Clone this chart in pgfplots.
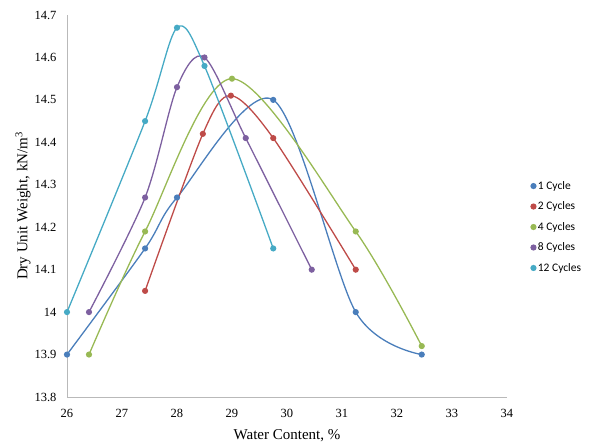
\documentclass[border=0pt]{standalone}
\usepackage{pgfplots}
\pgfplotsset{compat=1.18}
\usepackage{fontspec}
\setmainfont{Liberation Serif}
\newfontfamily\legfont{Carlito}
\definecolor{c1}{HTML}{4A7EBB}
\definecolor{c2}{HTML}{BE4B48}
\definecolor{c4}{HTML}{98B954}
\definecolor{c8}{HTML}{7D60A0}
\definecolor{c12}{HTML}{46AAC5}
\begin{document}
\begin{tikzpicture}
\begin{axis}[
  scale only axis, width=440pt, height=382pt,
  xmin=26, xmax=34, ymin=13.8, ymax=14.7,
  xtick={26,...,34}, ytick={13.8,13.9,...,14.71},
  axis lines=left, axis line style={draw=gray!55, -},
  major tick length=0pt,
  /pgf/number format/assume math mode=true,
  ticklabel style={font=\fontsize{12.5}{14}\selectfont},
  yticklabel style={/pgf/number format/fixed, xshift=-7pt},
  xticklabel style={yshift=-9pt},
  xlabel={Water Content, \%}, ylabel={Dry Unit Weight, kN/m\textsuperscript{3}},
  label style={font=\fontsize{15}{17}\selectfont},
  xlabel style={yshift=-5pt}, ylabel style={yshift=-3pt},
  clip=false,
  every axis plot/.append style={line width=1.3pt, smooth, tension=0.5, mark=*, mark size=2.4pt},
  legend style={draw=none, fill=none, at={(1.045,0.445)}, anchor=west, font=\legfont\fontsize{11.5}{13}\selectfont, row sep=7pt},
  legend cell align=left,
  legend image code/.code={\draw[mark repeat=2, mark phase=2] plot coordinates {(0cm,0cm) (0.1cm,0cm)};},
]
\addplot[c1, mark options={fill=c1}] coordinates {(26,13.9) (27.42,14.15) (28,14.27) (29.75,14.5) (31.25,14.0) (32.45,13.9)};
\addlegendentry{1 Cycle}
\addplot[c2, mark options={fill=c2}] coordinates {(27.42,14.05) (28.47,14.42) (28.98,14.51) (29.75,14.41) (31.25,14.1)};
\addlegendentry{2 Cycles}
\addplot[c4, mark options={fill=c4}] coordinates {(26.4,13.9) (27.42,14.19) (29,14.55) (31.25,14.19) (32.45,13.92)};
\addlegendentry{4 Cycles}
\addplot[c8, mark options={fill=c8}] coordinates {(26.4,14.0) (27.42,14.27) (28,14.53) (28.5,14.6) (29.25,14.41) (30.45,14.1)};
\addlegendentry{8 Cycles}
\addplot[c12, mark options={fill=c12}] coordinates {(26,14.0) (27.42,14.45) (28,14.67) (28.5,14.58) (29.75,14.15)};
\addlegendentry{12 Cycles}
\end{axis}
\path (current axis.south west) ++(-67pt,-46pt) rectangle ++(590pt,443pt);
\end{tikzpicture}
\end{document}
